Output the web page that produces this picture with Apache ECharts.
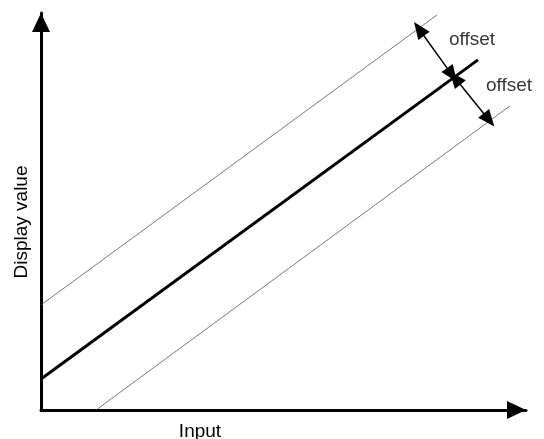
<!DOCTYPE html>
<html>
<head>
<meta charset="utf-8">
<script src="https://cdn.jsdelivr.net/npm/echarts@6/dist/echarts.min.js"></script>
<style>html,body{margin:0;padding:0;background:#fff}#c{width:544px;height:439px}</style>
</head>
<body>
<div id="c"></div>
<script>
// Data (arbitrary units: x 0..100 along Input, y 0..100 along Display value)
var xAxisName = 'Input';
var yAxisName = 'Display value';
var mainLine = [[0, 7.8], [90.1, 88.2]];
var upperLine = [[0, 26.45], [81.65, 99.5]];
var lowerLine = [[11.34, 0], [96.7, 76.6]];
var upperArrow = [[77.94, 95.97], [84.74, 84.4]];
var lowerArrow = [[85.36, 83.63], [92.37, 73.05]];
var labelPoints = [[84.12, 93.3], [91.75, 81.7]];
var labelTexts = ['offset', 'offset'];

var FONT = 'Liberation Sans, Arial, Helvetica, sans-serif';
var chart = echarts.init(document.getElementById('c'), null, {renderer: 'canvas'});
chart.setOption({
  animation: false,
  backgroundColor: '#fff',
  grid: {left: 41, right: 18, top: 13, bottom: 29, outerBoundsMode: 'none'},
  xAxis: {
    type: 'value', min: 0, max: 100,
    name: xAxisName, nameLocation: 'middle', nameGap: 12,
    nameTextStyle: {fontFamily: FONT, fontSize: 19, color: '#000', padding: [0, 167, 0, 0]},
    axisLine: {lineStyle: {color: '#000', width: 3}, symbol: ['none', 'triangle'], symbolSize: [18, 19], symbolOffset: [0, -9.5]},
    axisTick: {show: false}, axisLabel: {show: false}, splitLine: {show: false}
  },
  yAxis: {
    type: 'value', min: 0, max: 100,
    name: yAxisName, nameLocation: 'middle', nameGap: 10,
    nameTextStyle: {fontFamily: FONT, fontSize: 19, color: '#000', padding: [0, 21, 0, 0]},
    axisLine: {lineStyle: {color: '#000', width: 3}, symbol: ['none', 'triangle'], symbolSize: [18, 19], symbolOffset: [0, -9.5]},
    axisTick: {show: false}, axisLabel: {show: false}, splitLine: {show: false}
  },
  series: [
    {type: 'line', data: upperLine, symbol: 'none', silent: true, lineStyle: {color: '#555', width: 0.8}},
    {type: 'line', data: lowerLine, symbol: 'none', silent: true, lineStyle: {color: '#555', width: 0.8}},
    {type: 'line', data: mainLine, symbol: 'none', silent: true, lineStyle: {color: '#000', width: 3}},
    {
      type: 'line', data: [], symbol: 'none', silent: true,
      markLine: {
        silent: true, symbol: ['triangle', 'triangle'], symbolSize: [14, 17],
        label: {show: false},
        lineStyle: {color: '#000', width: 1.5, type: 'solid'},
        data: [
          [{coord: upperArrow[0]}, {coord: upperArrow[1]}],
          [{coord: lowerArrow[0]}, {coord: lowerArrow[1]}]
        ]
      }
    },
    {
      type: 'scatter', symbolSize: 0, silent: true,
      data: labelPoints.map(function (p, i) { return {value: p, name: labelTexts[i]}; }),
      label: {show: true, position: [0, 0], align: 'left', verticalAlign: 'middle', formatter: '{b}',
        fontFamily: FONT, fontSize: 19, color: '#000'}
    }
  ]
});
</script>
</body>
</html>
